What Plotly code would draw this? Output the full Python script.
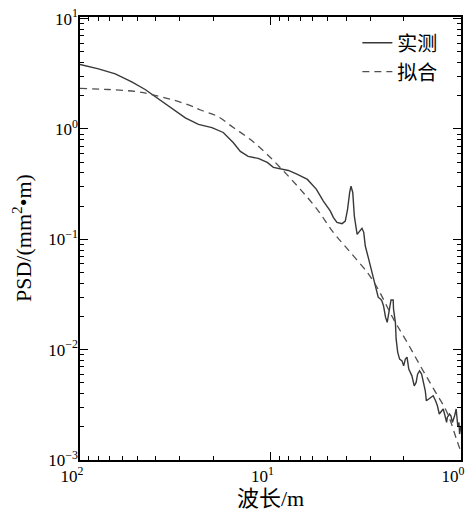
import plotly.graph_objects as go

# 实测 (measured) PSD
wavelength_meas = [100, 80.0, 65.3, 53.5, 45.5, 38.7, 33.0, 28.0, 23.9, 20.3, 17.7, 15.7, 14.4, 13.1,
                   11.6, 10.4, 9.66, 8.66, 8.05, 7.22, 6.40, 5.74, 5.28, 4.85, 4.68, 4.48, 4.21, 4.05,
                   3.94, 3.84, 3.78, 3.70, 3.63, 3.51, 3.40, 3.31, 3.24, 3.18, 3.05, 2.96, 2.87, 2.78,
                   2.72, 2.64, 2.60, 2.55, 2.49, 2.44, 2.40, 2.35, 2.33, 2.27, 2.26, 2.21, 2.19, 2.15,
                   2.10, 2.04, 2.00, 1.96, 1.92, 1.88, 1.81, 1.76, 1.72, 1.69, 1.65, 1.61, 1.58, 1.54,
                   1.52, 1.45, 1.40, 1.36, 1.33, 1.30, 1.27, 1.24, 1.22, 1.19, 1.18, 1.15, 1.13, 1.11,
                   1.08, 1.06, 1.05, 1.04, 1.025, 1.017, 1.0]
psd_meas = [3.84, 3.51, 3.16, 2.67, 2.28, 1.88, 1.56, 1.26, 1.10, 1.03, 0.93, 0.755, 0.626, 0.564,
            0.541, 0.498, 0.449, 0.430, 0.421, 0.388, 0.349, 0.284, 0.222, 0.180, 0.158, 0.1426, 0.1387, 0.1465,
            0.187, 0.266, 0.303, 0.266, 0.1625, 0.111, 0.119, 0.1258, 0.1157, 0.0870, 0.0659, 0.0535, 0.0408, 0.0331,
            0.0299, 0.0287, 0.0276, 0.0249, 0.0197, 0.0177, 0.0210, 0.0242, 0.0282, 0.0282, 0.0233, 0.0177, 0.01245, 0.0095,
            0.0082, 0.00792, 0.00713, 0.0082, 0.00855, 0.00666, 0.00579, 0.0047, 0.00505, 0.0060, 0.00643, 0.0060, 0.00505, 0.00424,
            0.00344, 0.00369, 0.00382, 0.00344, 0.0031, 0.00261, 0.00279, 0.0029, 0.00261, 0.00219, 0.00243, 0.00261, 0.00252, 0.00219,
            0.00252, 0.0029, 0.00243, 0.00204, 0.00219, 0.00172, 0.00204]

# 拟合 (fitted) PSD
wavelength_fit = [100, 70.9, 49.3, 42.0, 33.0, 25.9, 23.3, 19.05, 15.6, 12.75, 10.4, 8.53, 6.97, 5.69,
                  4.68, 3.81, 3.11, 2.76, 2.26, 1.92, 1.635, 1.39, 1.184, 1.05, 1.0]
psd_fit = [2.33, 2.28, 2.17, 2.05, 1.85, 1.61, 1.486, 1.306, 1.025, 0.803, 0.588, 0.415, 0.2835, 0.187,
           0.1157, 0.0763, 0.0503, 0.0368, 0.0189, 0.0117, 0.00713, 0.00439, 0.0027, 0.0015, 0.00118]

x_major = [100, 10, 1]
x_major_text = ["10<sup>2</sup>", "10<sup>1</sup>", "10<sup>0</sup>"]
y_major = [0.001, 0.01, 0.1, 1, 10]
y_major_text = ["10<sup>−3</sup>", "10<sup>−2</sup>", "10<sup>−1</sup>", "10<sup>0</sup>", "10<sup>1</sup>"]
x_minor = [m * d for d in (1, 10) for m in range(2, 10)]
y_minor = [m * d for d in (0.001, 0.01, 0.1, 1) for m in range(2, 10)]

FONT = "Liberation Serif, Noto Sans CJK SC, serif"
X_RANGE = [2, 0]
Y_RANGE = [-3, 1.015]

fig = go.Figure()
fig.add_trace(go.Scatter(x=wavelength_meas, y=psd_meas, mode="lines", name="实测",
                         line=dict(color="#383838", width=1.4)))
fig.add_trace(go.Scatter(x=wavelength_fit, y=psd_fit, mode="lines", name="拟合",
                         line=dict(color="#505050", width=1.3, dash="7px,5px"), line_shape="spline"))

axis_common = dict(
    showline=True, linecolor="black", linewidth=1.5, mirror="ticks",
    ticks="inside", ticklen=8, tickwidth=1.2, tickcolor="black",
    showgrid=False, zeroline=False, tickmode="array", automargin=False,
    tickfont=dict(family=FONT, size=17, color="black"),
)
frame_common = {k: v for k, v in axis_common.items() if k not in ("mirror", "tickfont")}
minor_common = dict(ticks="inside", ticklen=4, tickcolor="black", tickwidth=1.2, showgrid=False)

fig.update_layout(
    xaxis=dict(type="log", range=X_RANGE, tickvals=x_major, ticktext=x_major_text,
               minor=dict(tickvals=x_minor, **minor_common), ticklabelshift=8,
               title=dict(text="波长/m", font=dict(family=FONT, size=22, color="black"), standoff=5),
               **axis_common),
    yaxis=dict(type="log", range=Y_RANGE, tickvals=y_major, ticktext=y_major_text,
               minor=dict(tickvals=y_minor, **minor_common), ticklabelstandoff=-3,
               **axis_common),
    # frame axes on top / right carrying the mirrored ticks
    xaxis2=dict(type="log", range=X_RANGE, overlaying="x", side="top", anchor="y", tickvals=x_major,
                showticklabels=False, minor=dict(tickvals=x_minor, **minor_common), **frame_common),
    yaxis2=dict(type="log", range=Y_RANGE, overlaying="y", side="right", anchor="x", tickvals=y_major,
                showticklabels=False, minor=dict(tickvals=y_minor, **minor_common), **frame_common),
    annotations=[dict(text="PSD/(mm<sup>2</sup>•m)", xref="paper", yref="paper", x=-0.1535, y=0.5,
                      xanchor="center", yanchor="middle", textangle=-90, showarrow=False,
                      font=dict(family=FONT, size=22, color="black"))],
    width=465, height=515,
    margin=dict(l=79.5, r=4.3, t=17.3, b=54.5),
    paper_bgcolor="white", plot_bgcolor="white",
    font=dict(family=FONT, size=17, color="black"),
    showlegend=True,
    legend=dict(x=0.728, y=0.986, xanchor="left", yanchor="top", bgcolor="rgba(0,0,0,0)",
                font=dict(family=FONT, size=20, color="black"), tracegroupgap=0),
)

fig.write_html("out.html", config={"displayModeBar": False},
               post_script="document.body.style.margin='0';document.body.style.overflow='hidden';")
